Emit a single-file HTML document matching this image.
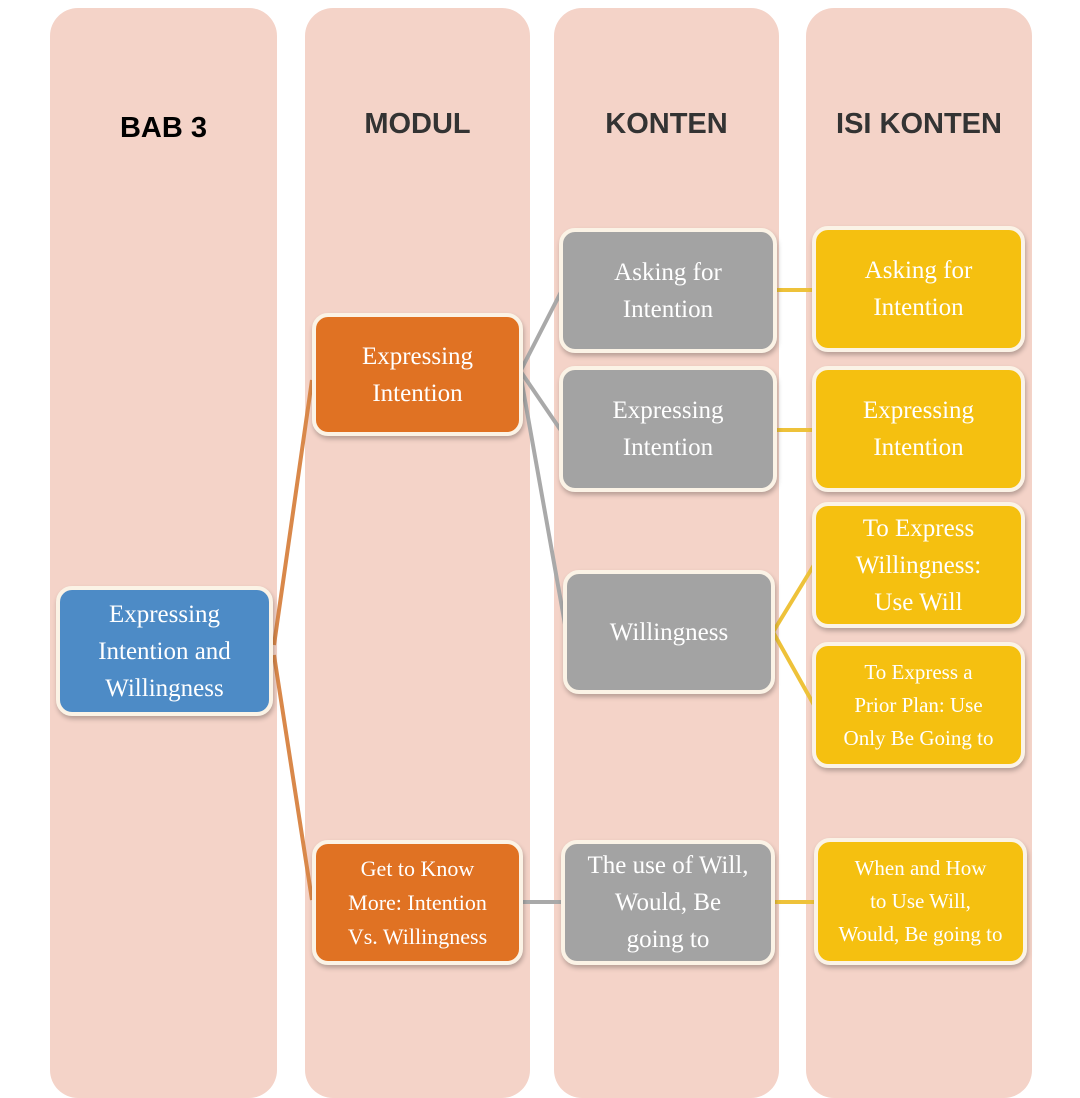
<!DOCTYPE html>
<html><head><style>
body{margin:0;width:1080px;height:1080px;background:#fff;position:relative;overflow:hidden;font-family:"Liberation Serif",serif}
.col{position:absolute;top:8px;height:1090px;background:#f4d3c8;border-radius:28px}
.h{position:absolute;font-family:"Liberation Sans",sans-serif;font-weight:bold;font-size:29px;text-align:center;color:#222}
.b{position:absolute;box-sizing:border-box;border:4px solid #fbf3e6;border-radius:16px;color:#fff;display:flex;align-items:center;justify-content:center;text-align:center;font-size:25px;line-height:37px;box-shadow:1px 3px 5px rgba(0,0,0,.25)}
.g{background:#a3a3a3}.o{background:#e07223}.y{background:#f5c010}.bl{background:#4d8bc6}
svg{position:absolute;left:0;top:0}
</style></head><body>
<div class="col" style="left:50px;width:227px"></div>
<div class="col" style="left:305px;width:225px"></div>
<div class="col" style="left:554px;width:225px"></div>
<div class="col" style="left:806px;width:226px"></div>
<div class="h" style="left:50px;width:227px;top:112px;color:#000">BAB 3</div>
<div class="h" style="left:305px;width:225px;top:108px;color:#333">MODUL</div>
<div class="h" style="left:554px;width:225px;top:108px;color:#333">KONTEN</div>
<div class="h" style="left:806px;width:226px;top:108px;color:#333">ISI KONTEN</div>
<svg width="1080" height="1080">
<g stroke="#d9884a" stroke-width="4" fill="none"><path d="M274 645 L312 380 M274 655 L312 900"/></g>
<g stroke="#a9a9a9" stroke-width="4" fill="none"><path d="M521 370 L562 290 M521 372 L562 432 M521 378 L566 630 M521 902 L564 902"/></g>
<g stroke="#eec23a" stroke-width="4" fill="none"><path d="M775 290 L814 290 M775 430 L814 430 M773 632 L814 565 M773 632 L814 705 M773 902 L816 902"/></g>
</svg>
<div class="b bl" style="left:56px;top:586px;width:217px;height:130px">Expressing<br>Intention and<br>Willingness</div>
<div class="b o" style="left:312px;top:313px;width:211px;height:123px">Expressing<br>Intention</div>
<div class="b o" style="left:312px;top:840px;width:211px;height:125px;font-size:22px;line-height:34px">Get to Know<br>More: Intention<br>Vs. Willingness</div>
<div class="b g" style="left:559px;top:228px;width:218px;height:125px">Asking for<br>Intention</div>
<div class="b g" style="left:559px;top:366px;width:218px;height:126px">Expressing<br>Intention</div>
<div class="b g" style="left:563px;top:570px;width:212px;height:124px">Willingness</div>
<div class="b g" style="left:561px;top:840px;width:214px;height:125px">The use of Will,<br>Would, Be<br>going to</div>
<div class="b y" style="left:812px;top:226px;width:213px;height:126px">Asking for<br>Intention</div>
<div class="b y" style="left:812px;top:366px;width:213px;height:126px">Expressing<br>Intention</div>
<div class="b y" style="left:812px;top:502px;width:213px;height:126px">To Express<br>Willingness:<br>Use Will</div>
<div class="b y" style="left:812px;top:642px;width:213px;height:126px;font-size:21px;line-height:33px">To Express a<br>Prior Plan: Use<br>Only Be Going to</div>
<div class="b y" style="left:814px;top:838px;width:213px;height:127px;font-size:21px;line-height:33px">When and How<br>to Use Will,<br>Would, Be going to</div>
</body></html>
